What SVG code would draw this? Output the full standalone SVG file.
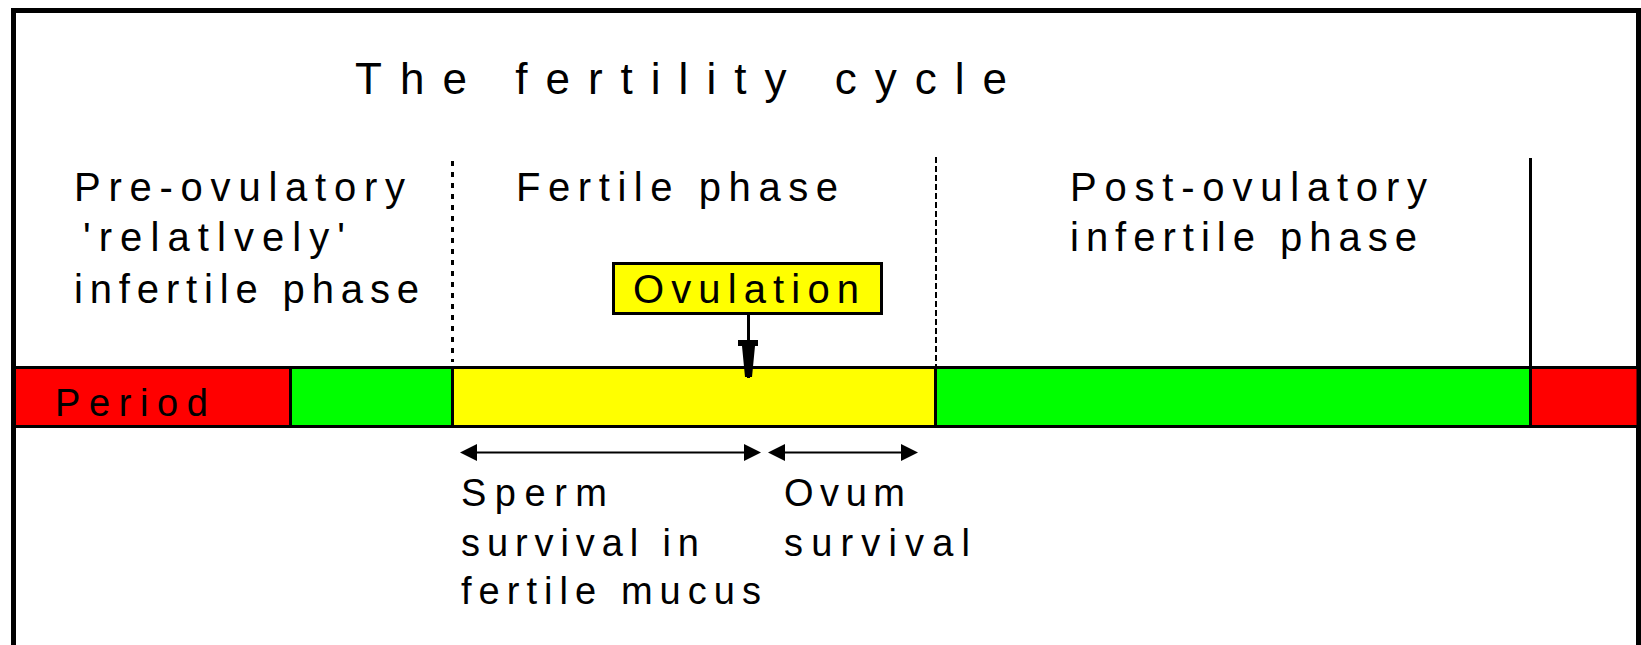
<svg xmlns="http://www.w3.org/2000/svg" width="1641" height="645" viewBox="0 0 1641 645">
<style>
  text { font-family: "Liberation Sans", Arial, sans-serif; fill: #000; }
  .title { font-size: 44px; }
  .lbl { font-size: 40px; }
  .sm { font-size: 38px; }
  .line { stroke: #000; fill: none; }
  .head { fill: #000; stroke: none; }
</style>
<rect x="0" y="0" width="1641" height="645" fill="#fff"/>
<!-- frame -->
<path d="M13.5,645 V10.5 H1638.5 V645" fill="none" stroke="#000" stroke-width="5"/>

<g id="title">
  <text class="title" x="355" y="94" textLength="652" lengthAdjust="spacing">The fertility  cycle</text>
</g>

<!-- phase bar -->
<g id="bar">
  <rect id="period-start" x="16" y="367.5" width="274.5" height="59" fill="#ff0000"/>
  <rect id="pre-green" x="290.5" y="367.5" width="162" height="59" fill="#00ff00"/>
  <rect id="fertile-yellow" x="452.5" y="367.5" width="483" height="59" fill="#ffff00"/>
  <rect id="post-green" x="935.5" y="367.5" width="595" height="59" fill="#00ff00"/>
  <rect id="period-end" x="1530.5" y="367.5" width="106" height="59" fill="#ff0000"/>
  <line class="line" x1="16" y1="367.5" x2="1637" y2="367.5" stroke-width="3"/>
  <line class="line" x1="16" y1="426.5" x2="1637" y2="426.5" stroke-width="3"/>
  <line class="line" x1="290.5" y1="367.5" x2="290.5" y2="426.5" stroke-width="3"/>
  <line class="line" x1="452.5" y1="367.5" x2="452.5" y2="426.5" stroke-width="3"/>
  <line class="line" x1="935.5" y1="367.5" x2="935.5" y2="426.5" stroke-width="3"/>
  <line class="line" x1="1530.5" y1="367.5" x2="1530.5" y2="426.5" stroke-width="3"/>
  <text class="sm" x="55" y="416" textLength="153" lengthAdjust="spacing">Period</text>
</g>

<!-- phase separators -->
<g id="separators">
  <line class="line" x1="452.5" y1="161" x2="452.5" y2="362" stroke-width="3" stroke-dasharray="5,6"/>
  <line class="line" x1="936" y1="157" x2="936" y2="366" stroke-width="2" stroke-dasharray="6,3"/>
  <line class="line" x1="1530.5" y1="158" x2="1530.5" y2="367" stroke-width="3"/>
</g>

<g id="pre-ovulatory">
  <text class="lbl" x="74" y="201" textLength="331" lengthAdjust="spacing">Pre-ovulatory</text>
  <text class="lbl" x="83" y="251" textLength="262" lengthAdjust="spacing">'relatlvely'</text>
  <text class="lbl" x="74" y="303" textLength="345" lengthAdjust="spacing">infertile phase</text>
</g>

<g id="fertile-phase">
  <text class="lbl" x="516" y="201" textLength="322" lengthAdjust="spacing">Fertile phase</text>
</g>

<g id="post-ovulatory">
  <text class="lbl" x="1070" y="201" textLength="357" lengthAdjust="spacing">Post-ovulatory</text>
  <text class="lbl" x="1070" y="251" textLength="347" lengthAdjust="spacing">infertile phase</text>
</g>

<g id="ovulation">
  <rect x="613.5" y="263.5" width="268" height="50" fill="#ffff00" stroke="#000" stroke-width="3"/>
  <text class="lbl" x="633" y="303" textLength="226" lengthAdjust="spacing">Ovulation</text>
</g>

<g id="sperm-label">
  <text class="sm" x="461" y="506" textLength="146" lengthAdjust="spacing">Sperm</text>
  <text class="sm" x="461" y="556" textLength="238" lengthAdjust="spacing">survival in</text>
  <text class="sm" x="461" y="604" textLength="300" lengthAdjust="spacing">fertile mucus</text>
</g>

<g id="ovum-label">
  <text class="sm" x="784" y="506" textLength="121" lengthAdjust="spacing">Ovum</text>
  <text class="sm" x="784" y="556" textLength="186" lengthAdjust="spacing">survival</text>
</g>

<g id="connectors">
  <!-- ovulation arrow -->
  <line class="line" x1="748.5" y1="315" x2="748.5" y2="378" stroke-width="3"/>
  <polygon class="head" points="738,340 758,340 758,346 755,346 752,377 745,377 742,346 738,346"/>
  <!-- sperm survival double arrow -->
  <line class="line" x1="470" y1="452.5" x2="752" y2="452.5" stroke-width="2"/>
  <polygon class="head" points="460,452.5 477,444 477,461"/>
  <polygon class="head" points="761,452.5 744,444 744,461"/>
  <!-- ovum survival double arrow -->
  <line class="line" x1="778" y1="452.5" x2="909" y2="452.5" stroke-width="2"/>
  <polygon class="head" points="768,452.5 785,444 785,461"/>
  <polygon class="head" points="918,452.5 901,444 901,461"/>
</g>
</svg>
